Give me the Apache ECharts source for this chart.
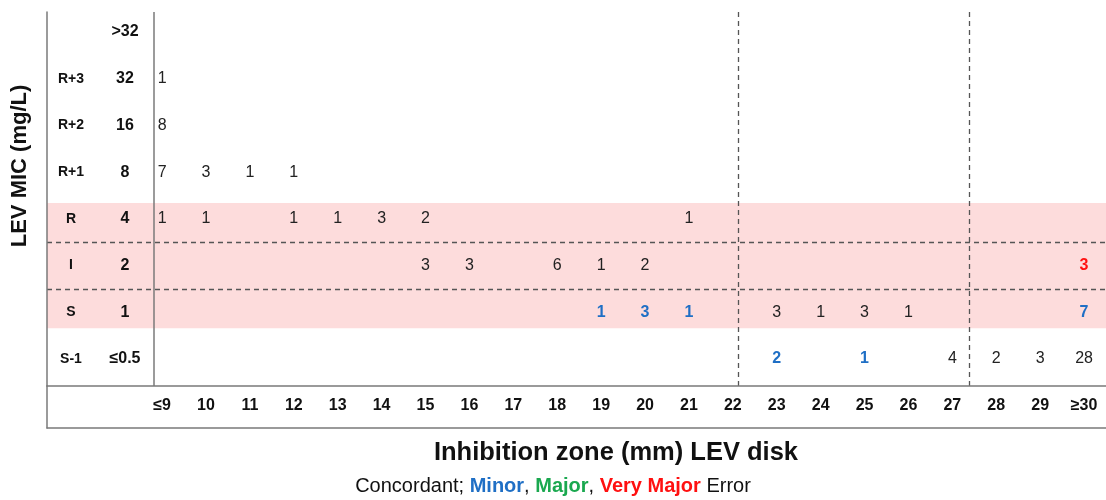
<!DOCTYPE html>
<html>
<head>
<meta charset="utf-8">
<script src="https://cdn.jsdelivr.net/npm/echarts@6/dist/echarts.min.js"></script>
<style>
html,body{margin:0;padding:0;background:#fff;}
#chart{width:1106px;height:500px;}
</style>
</head>
<body>
<div id="chart"></div>
<script>
// Row labels (bottom to top), index = row value
const rowCodes = ['S-1', 'S', 'I', 'R', 'R+1', 'R+2', 'R+3', ''];
const micLabels = ['≤0.5', '1', '2', '4', '8', '16', '32', '>32'];
// Column ticks (inhibition zone, mm)
const zoneValues = [9,10,11,12,13,14,15,16,17,18,19,20,21,22,23,24,25,26,27,28,29,30];
const zoneLabels = ['≤9','10','11','12','13','14','15','16','17','18','19','20','21','22','23','24','25','26','27','28','29','≥30'];
// [zone, row, count]
const concordant = [
  [9,6,1],
  [9,5,8],
  [9,4,7],[10,4,3],[11,4,1],[12,4,1],
  [9,3,1],[10,3,1],[12,3,1],[13,3,1],[14,3,3],[15,3,2],[21,3,1],
  [15,2,3],[16,2,3],[18,2,6],[19,2,1],[20,2,2],
  [23,1,3],[24,1,1],[25,1,3],[26,1,1],
  [27,0,4],[28,0,2],[29,0,3],[30,0,28]
];
const minorErr = [
  [19,1,1],[20,1,3],[21,1,1],[30,1,7],
  [23,0,2],[25,0,1]
];
const majorErr = [];
const veryMajorErr = [
  [30,2,3]
];
// Breakpoint lines (zone) and category bounds (row)
const zoneBreaks = [22.12, 27.38];
const rowBreaks = [1.5, 2.5];
const pinkBand = [0.66, 3.34];
const labelDivider = 8.815;

const FONT = '"Liberation Sans", Arial, Helvetica, sans-serif';
const GRAY = '#7a7a7a';
const XMIN = 6.378, XMAX = 30.5, YMIN = -0.578, YMAX = 7.43;

const chart = echarts.init(document.getElementById('chart'));

function labelSeries(name, data, color, bold) {
  return {
    name, type: 'scatter', data,
    xAxisIndex: 0, yAxisIndex: 0,
    symbolSize: 8,
    itemStyle: { color: 'rgba(0,0,0,0)', opacity: 1 },
    silent: true,
    z: 5,
    label: {
      show: true, position: 'inside',
      formatter: p => String(p.value[2]),
      color, opacity: 1, fontFamily: FONT, fontSize: 16,
      fontWeight: bold ? 'bold' : 'normal'
    }
  };
}

const option = {
  animation: false,
  backgroundColor: '#fff',
  grid: [
    { left: 47, right: 0, top: 12, bottom: 114 },
    { left: 47, right: 0, top: 386, bottom: 72 }
  ],
  xAxis: [
    {
      type: 'value', gridIndex: 0, min: XMIN, max: XMAX, z: 10,
      axisLine: { show: true, onZero: false, lineStyle: { color: GRAY, width: 1.5 } },
      axisTick: { show: false },
      splitLine: { show: false },
      axisLabel: {
        show: true, customValues: zoneValues, margin: 12,
        formatter: v => zoneLabels[zoneValues.indexOf(v)] ?? '',
        color: '#111', fontFamily: FONT, fontSize: 16, fontWeight: 'bold'
      }
    },
    {
      type: 'value', gridIndex: 1, min: 0, max: 1,
      axisLine: { show: true, onZero: false, lineStyle: { color: GRAY, width: 1.5 } },
      axisTick: { show: false }, splitLine: { show: false }, axisLabel: { show: false }
    }
  ],
  yAxis: [
    {
      type: 'value', gridIndex: 0, min: YMIN, max: YMAX, position: 'left', offset: 0, z: 10,
      axisLine: { show: true, onZero: false, lineStyle: { color: GRAY, width: 1.5 } },
      axisTick: { show: false }, splitLine: { show: false },
      axisLabel: {
        show: true, inside: true, align: 'center', margin: 24,
        customValues: [0,1,2,3,4,5,6,7],
        formatter: v => rowCodes[v] ?? '',
        color: '#111', fontFamily: FONT, fontSize: 14, fontWeight: 'bold'
      }
    },
    {
      type: 'value', gridIndex: 0, min: YMIN, max: YMAX, position: 'left', offset: 0, z: 10,
      axisLine: { show: false }, axisTick: { show: false }, splitLine: { show: false },
      axisLabel: {
        show: true, inside: true, align: 'center', margin: 78,
        customValues: [0,1,2,3,4,5,6,7],
        formatter: v => micLabels[v] ?? '',
        color: '#111', fontFamily: FONT, fontSize: 16, fontWeight: 'bold'
      }
    },
    {
      type: 'value', gridIndex: 1, min: 0, max: 1,
      axisLine: { show: true, onZero: false, lineStyle: { color: GRAY, width: 1.5 } },
      axisTick: { show: false }, splitLine: { show: false }, axisLabel: { show: false }
    }
  ],
  series: [
    {
      name: 'bands', type: 'scatter', data: [], xAxisIndex: 0, yAxisIndex: 0,
      silent: true, z: -1,
      markArea: {
        silent: true,
        itemStyle: { color: '#fddcdc', opacity: 1 },
        data: [[{ xAxis: XMIN, yAxis: pinkBand[0] }, { xAxis: XMAX, yAxis: pinkBand[1] }]]
      },
      markLine: {
        silent: true, symbol: ['none', 'none'],
        label: { show: false },
        lineStyle: { color: '#555', type: [5, 4], width: 1.3, opacity: 1 },
        data: [
          ...rowBreaks.map(r => ({ yAxis: r })),
          ...zoneBreaks.map(z => ({ xAxis: z })),
          { xAxis: labelDivider, lineStyle: { type: 'solid', color: GRAY, width: 1.5 } }
        ]
      }
    },
    labelSeries('Concordant', concordant, '#222', false),
    labelSeries('Minor', minorErr, '#1f6fc5', true),
    labelSeries('Major', majorErr, '#1aa84f', true),
    labelSeries('Very Major', veryMajorErr, '#ff1010', true)
  ],
  graphic: [
    {
      type: 'text', x: 616, y: 453,
      style: {
        text: 'Inhibition zone (mm) LEV disk', fill: '#111',
        font: 'bold 25.5px ' + FONT, align: 'center', verticalAlign: 'middle'
      }
    },
    {
      type: 'text', x: 20, y: 166, rotation: Math.PI / 2,
      style: {
        text: 'LEV MIC (mg/L)', fill: '#111',
        font: 'bold 22px ' + FONT, align: 'center', verticalAlign: 'middle'
      }
    },
    {
      type: 'text', x: 553, y: 486,
      style: {
        text: '{a|Concordant; }{b|Minor}{a|, }{c|Major}{a|, }{d|Very Major}{a| Error}',
        align: 'center', verticalAlign: 'middle',
        rich: {
          a: { fontFamily: FONT, fontSize: 20, fill: '#111' },
          b: { fontFamily: FONT, fontSize: 20, fontWeight: 'bold', fill: '#1f6fc5' },
          c: { fontFamily: FONT, fontSize: 20, fontWeight: 'bold', fill: '#1aa84f' },
          d: { fontFamily: FONT, fontSize: 20, fontWeight: 'bold', fill: '#ff1010' }
        }
      }
    }
  ]
};
chart.setOption(option);
</script>
</body>
</html>
